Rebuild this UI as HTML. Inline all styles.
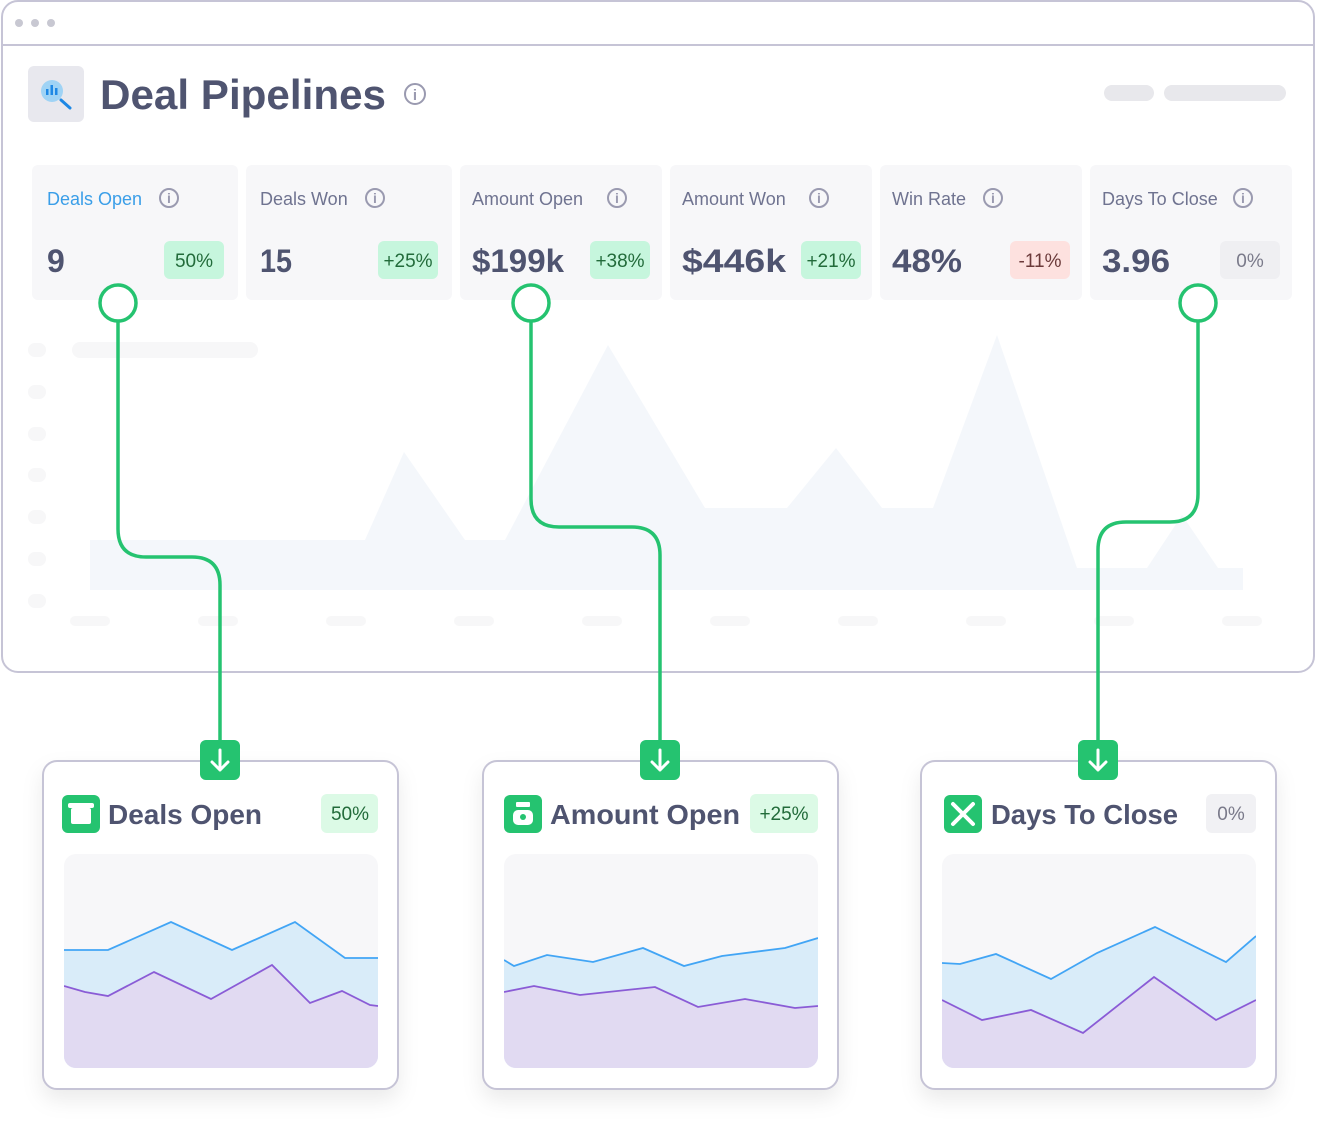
<!DOCTYPE html>
<html><head><meta charset="utf-8"><style>
html,body{margin:0;padding:0;background:#fff;}
svg{display:block;}
text{font-family:"Liberation Sans",sans-serif;}
</style></head><body>
<svg width="1318" height="1138" viewBox="0 0 1318 1138" xmlns="http://www.w3.org/2000/svg">
<defs>
<filter id="sh" x="-20%" y="-20%" width="140%" height="150%"><feDropShadow dx="0" dy="10" stdDeviation="10" flood-color="#000" flood-opacity="0.08"/></filter>
</defs>
<rect x="2" y="1" width="1312" height="671" rx="16" fill="#fff" stroke="#c6c4d6" stroke-width="2"/>
<line x1="2" y1="45" x2="1314" y2="45" stroke="#c6c4d6" stroke-width="2"/>
<circle cx="19" cy="23" r="4" fill="#c8c8d2"/><circle cx="35" cy="23" r="4" fill="#c8c8d2"/><circle cx="51" cy="23" r="4" fill="#c8c8d2"/>
<rect x="28" y="66" width="56" height="56" rx="6" fill="#e8e8ee"/>
<circle cx="52" cy="91" r="11" fill="#9fd3f5"/>
<rect x="46" y="89" width="2.5" height="6" fill="#1e88e5"/><rect x="50.5" y="85" width="2.5" height="10" fill="#1e88e5"/><rect x="55" y="88" width="2.5" height="7" fill="#1e88e5"/>
<line x1="61" y1="100" x2="70" y2="108" stroke="#1e88e5" stroke-width="3" stroke-linecap="round"/>
<text x="100" y="109" font-size="42" font-weight="bold" fill="#4f5470" textLength="286" lengthAdjust="spacingAndGlyphs">Deal Pipelines</text>
<circle cx="415" cy="94" r="10" fill="none" stroke="#9a9ab0" stroke-width="2"/><text x="415" y="100" font-size="15" font-weight="bold" fill="#9a9ab0" text-anchor="middle">i</text>
<rect x="1104" y="85" width="50" height="16" rx="8" fill="#e8e8ec"/>
<rect x="1164" y="85" width="122" height="16" rx="8" fill="#e8e8ec"/>
<polygon points="90,540 365,540 404,452 465,540 505,540 608,345 705,508 787,508 836,448 882,508 933,508 997,335 1077,568 1147,568 1182,515 1218,568 1243,568 1243,590 90,590" fill="#f4f7fb"/>
<g fill="#f7f7f8">
<rect x="28" y="343" width="18" height="14" rx="7"/><rect x="28" y="385" width="18" height="14" rx="7"/><rect x="28" y="427" width="18" height="14" rx="7"/><rect x="28" y="468" width="18" height="14" rx="7"/><rect x="28" y="510" width="18" height="14" rx="7"/><rect x="28" y="552" width="18" height="14" rx="7"/><rect x="28" y="594" width="18" height="14" rx="7"/>
<rect x="72" y="342" width="186" height="16" rx="8"/>
<rect x="70" y="616" width="40" height="10" rx="5"/><rect x="198" y="616" width="40" height="10" rx="5"/><rect x="326" y="616" width="40" height="10" rx="5"/><rect x="454" y="616" width="40" height="10" rx="5"/><rect x="582" y="616" width="40" height="10" rx="5"/><rect x="710" y="616" width="40" height="10" rx="5"/><rect x="838" y="616" width="40" height="10" rx="5"/><rect x="966" y="616" width="40" height="10" rx="5"/><rect x="1094" y="616" width="40" height="10" rx="5"/><rect x="1222" y="616" width="40" height="10" rx="5"/>
</g>
<g fill="#f7f7f9">
<rect x="32" y="165" width="206" height="135" rx="6"/><rect x="246" y="165" width="206" height="135" rx="6"/><rect x="460" y="165" width="202" height="135" rx="6"/><rect x="670" y="165" width="202" height="135" rx="6"/><rect x="880" y="165" width="202" height="135" rx="6"/><rect x="1090" y="165" width="202" height="135" rx="6"/>
</g>
<g font-size="18" fill="#6f7390">
<text x="47" y="205" fill="#3a9ee8">Deals Open</text>
<text x="260" y="205">Deals Won</text>
<text x="472" y="205">Amount Open</text>
<text x="682" y="205">Amount Won</text>
<text x="892" y="205">Win Rate</text>
<text x="1102" y="205">Days To Close</text>
</g>
<g fill="none" stroke="#9a9ab0" stroke-width="2">
<circle cx="169" cy="198" r="9"/><circle cx="375" cy="198" r="9"/><circle cx="617" cy="198" r="9"/><circle cx="819" cy="198" r="9"/><circle cx="993" cy="198" r="9"/><circle cx="1243" cy="198" r="9"/>
</g>
<g font-size="14" font-weight="bold" fill="#9a9ab0" text-anchor="middle">
<text x="169" y="203">i</text><text x="375" y="203">i</text><text x="617" y="203">i</text><text x="819" y="203">i</text><text x="993" y="203">i</text><text x="1243" y="203">i</text>
</g>
<g font-size="32" font-weight="bold" fill="#4f5470">
<text x="47" y="272">9</text><text x="260" y="272" textLength="32" lengthAdjust="spacingAndGlyphs">15</text><text x="472" y="272" textLength="92" lengthAdjust="spacingAndGlyphs">$199k</text><text x="682" y="272" textLength="104" lengthAdjust="spacingAndGlyphs">$446k</text><text x="892" y="272" textLength="70" lengthAdjust="spacingAndGlyphs">48%</text><text x="1102" y="272" textLength="68" lengthAdjust="spacingAndGlyphs">3.96</text>
</g>
<rect x="164" y="241" width="60" height="38" rx="6" fill="#c6f6dd"/>
<rect x="378" y="241" width="60" height="38" rx="6" fill="#c6f6dd"/>
<rect x="590" y="241" width="60" height="38" rx="6" fill="#c6f6dd"/>
<rect x="801" y="241" width="60" height="38" rx="6" fill="#c6f6dd"/>
<rect x="1010" y="241" width="60" height="38" rx="6" fill="#fde1df"/>
<rect x="1220" y="241" width="60" height="38" rx="6" fill="#efeff2"/>
<g font-size="19" text-anchor="middle">
<text x="194" y="267" fill="#226b3a">50%</text><text x="408" y="267" fill="#226b3a">+25%</text><text x="620" y="267" fill="#226b3a">+38%</text><text x="831" y="267" fill="#226b3a">+21%</text><text x="1040" y="267" fill="#6b3a3a">-11%</text><text x="1250" y="267" fill="#7a7a8a">0%</text>
</g>
<g fill="none" stroke="#25c370" stroke-width="3.5">
<path d="M118,321 V529 Q118,557 146,557 H192 Q220,557 220,585 V742"/>
<path d="M531,321 V499 Q531,527 559,527 H632 Q660,527 660,555 V742"/>
<path d="M1198,321 V494 Q1198,522 1170,522 H1126 Q1098,522 1098,550 V742"/>
</g>
<g fill="#fff" stroke="#25c370" stroke-width="3.5">
<circle cx="118" cy="303" r="18"/><circle cx="531" cy="303" r="18"/><circle cx="1198" cy="303" r="18"/>
</g>
<g filter="url(#sh)">
<rect x="43" y="761" width="355" height="328" rx="14" fill="#fff" stroke="#c6c4d6" stroke-width="2"/>
<rect x="483" y="761" width="355" height="328" rx="14" fill="#fff" stroke="#c6c4d6" stroke-width="2"/>
<rect x="921" y="761" width="355" height="328" rx="14" fill="#fff" stroke="#c6c4d6" stroke-width="2"/>
</g>
<g fill="#25c370">
<rect x="200" y="740" width="40" height="40" rx="6"/><rect x="640" y="740" width="40" height="40" rx="6"/><rect x="1078" y="740" width="40" height="40" rx="6"/>
</g>
<g fill="none" stroke="#fff" stroke-width="3" stroke-linecap="round" stroke-linejoin="round">
<path d="M220,750 V770 M212,762 L220,770 L228,762"/>
<path d="M660,750 V770 M652,762 L660,770 L668,762"/>
<path d="M1098,750 V770 M1090,762 L1098,770 L1106,762"/>
</g>
<rect x="62" y="795" width="38" height="38" rx="6" fill="#25c370"/>
<rect x="71" y="808" width="20" height="16" rx="2" fill="#fff"/><rect x="68" y="803" width="26" height="5" rx="2" fill="#fff"/>
<rect x="504" y="795" width="38" height="38" rx="6" fill="#25c370"/>
<rect x="513" y="810" width="20" height="15" rx="5" fill="#fff"/><rect x="516" y="802" width="14" height="5" rx="1" fill="#fff"/><circle cx="523" cy="817" r="3" fill="#25c370"/>
<rect x="944" y="795" width="38" height="38" rx="6" fill="#25c370"/>
<path d="M953,804 L973,824 M973,804 L953,824" stroke="#fff" stroke-width="4" stroke-linecap="round"/>
<g font-size="28" font-weight="bold" fill="#4f5470">
<text x="108" y="824" textLength="154" lengthAdjust="spacingAndGlyphs">Deals Open</text><text x="550" y="824" textLength="190" lengthAdjust="spacingAndGlyphs">Amount Open</text><text x="991" y="824" textLength="187" lengthAdjust="spacingAndGlyphs">Days To Close</text>
</g>
<rect x="321" y="794" width="57" height="39" rx="6" fill="#dcfae6"/>
<rect x="750" y="794" width="68" height="39" rx="6" fill="#dcfae6"/>
<rect x="1206" y="794" width="50" height="39" rx="6" fill="#f1f1f4"/>
<g font-size="19" text-anchor="middle">
<text x="350" y="820" fill="#226b3a">50%</text><text x="784" y="820" fill="#226b3a">+25%</text><text x="1231" y="820" fill="#7a7a8a">0%</text>
</g>
<clipPath id="c1"><rect x="64" y="854" width="314" height="214" rx="12"/></clipPath>
<clipPath id="c2"><rect x="504" y="854" width="314" height="214" rx="12"/></clipPath>
<clipPath id="c3"><rect x="942" y="854" width="314" height="214" rx="12"/></clipPath>
<g clip-path="url(#c1)">
<rect x="64" y="854" width="314" height="214" fill="#f7f7f9"/>
<polygon points="64,950 108,950 171,922 232,950 295,922 345,958 378,958 378,1068 64,1068" fill="#d9ecf9"/>
<polygon points="64,986 85,992 108,996 154,972 211,999 272,965 310,1003 342,991 370,1005 378,1006 378,1068 64,1068" fill="#e1daf2"/>
<polyline points="64,950 108,950 171,922 232,950 295,922 345,958 378,958" fill="none" stroke="#42a5f5" stroke-width="1.8"/>
<polyline points="64,986 85,992 108,996 154,972 211,999 272,965 310,1003 342,991 370,1005 378,1006" fill="none" stroke="#8a5cd6" stroke-width="1.8"/>
</g>
<g clip-path="url(#c2)">
<rect x="504" y="854" width="314" height="214" fill="#f7f7f9"/>
<polygon points="504,960 514,966 547,955 593,962 643,948 684,966 722,956 785,948 818,938 818,1068 504,1068" fill="#d9ecf9"/>
<polygon points="504,992 534,986 580,995 655,987 698,1007 745,999 795,1008 818,1006 818,1068 504,1068" fill="#e1daf2"/>
<polyline points="504,960 514,966 547,955 593,962 643,948 684,966 722,956 785,948 818,938" fill="none" stroke="#42a5f5" stroke-width="1.8"/>
<polyline points="504,992 534,986 580,995 655,987 698,1007 745,999 795,1008 818,1006" fill="none" stroke="#8a5cd6" stroke-width="1.8"/>
</g>
<g clip-path="url(#c3)">
<rect x="942" y="854" width="314" height="214" fill="#f7f7f9"/>
<polygon points="942,963 960,964 996,954 1051,979 1097,953 1155,927 1226,962 1256,936 1256,1068 942,1068" fill="#d9ecf9"/>
<polygon points="942,1000 982,1020 1031,1010 1083,1033 1154,977 1216,1020 1256,1000 1256,1068 942,1068" fill="#e1daf2"/>
<polyline points="942,963 960,964 996,954 1051,979 1097,953 1155,927 1226,962 1256,936" fill="none" stroke="#42a5f5" stroke-width="1.8"/>
<polyline points="942,1000 982,1020 1031,1010 1083,1033 1154,977 1216,1020 1256,1000" fill="none" stroke="#8a5cd6" stroke-width="1.8"/>
</g>
</svg>
</body></html>
